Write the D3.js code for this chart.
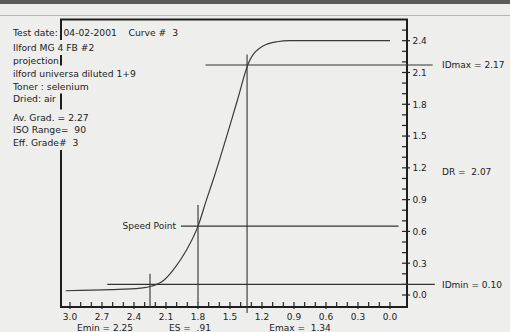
<!DOCTYPE html>
<html>
<head>
<meta charset="utf-8">
<script src="https://cdn.jsdelivr.net/npm/d3@7"></script>
<style>
  body { margin: 0; background: #eeeeec; }
  svg { display: block; }
  text { font-family: "DejaVu Sans", Verdana, sans-serif; fill: #222; }
</style>
</head>
<body>
<div id="chart"></div>
<script>
// characteristic curve (log exposure, density)
var curveLogE = [3.04, 2.62, 2.34, 2.23, 2.12, 2.03, 1.91, 1.80, 1.72, 1.66, 1.43, 1.33, 1.19, 1.06, 0.94, 0.00];
var curveDensity = [0.04, 0.05, 0.065, 0.085, 0.14, 0.24, 0.42, 0.65, 0.90, 1.08, 1.84, 2.18, 2.35, 2.39, 2.40, 2.40];

// reference lines, in data units
var hLineD = [2.17, 0.10, 0.65];          // IDmax, IDmin, speed point
var hLineFrom = [1.73, 2.65, 1.96];
var hLineTo = [-0.40, -0.42, -0.08];
var vLineE = [1.34, 2.25, 1.80];          // Emax, Emin, speed point
var vLineFrom = [2.27, 0.20, 0.85];
var vLineTo = [-0.17, -0.12, -0.07];

var yTickValues = [0.0, 0.3, 0.6, 0.9, 1.2, 1.5, 1.8, 2.1, 2.4];
var xTickValues = [3.0, 2.7, 2.4, 2.1, 1.8, 1.5, 1.2, 0.9, 0.6, 0.3, 0.0];
var minorY = d3.range(0, 26).map(d => d / 10);
var minorX = d3.range(0, 31).map(d => d / 10);

var infoLines = ["Test date:", "Ilford MG 4 FB #2", "projection", "ilford universa diluted 1+9",
  "Toner : selenium", "Dried: air", "Av. Grad. = 2.27", "ISO Range=  90", "Eff. Grade#  3"];
var infoExtra = "04-02-2001    Curve #  3";
var sideText = ["IDmax = 2.17", "DR =  2.07", "IDmin = 0.10"];
var sideD = [2.17, 1.16, 0.10];
var bottomText = ["Emin = 2.25", "ES =  .91", "Emax =  1.34"];

// layout
var W = 510, H = 332;
var frame = {left: 61, right: 407, top: 19.5, bottom: 307};
var infoBase = [36, 51, 63.5, 76.5, 89.5, 102, 120.5, 133, 146];
var bottomX = [105, 190, 300];

var svg = d3.select("#chart").append("svg")
  .attr("width", W)
  .attr("height", H);

// scan artefacts at the top of the page
svg.append("rect")
  .attr("width", W)
  .attr("height", 4)
  .attr("fill", "#5c5c5c");
svg.append("line")
  .attr("x1", 0).attr("x2", W)
  .attr("y1", 15.5).attr("y2", 15.5)
  .attr("stroke", "#b5b5b5")
  .attr("stroke-width", 1);

var x = d3.scaleLinear().domain([3.0, 0.0]).range([70, 390]);
var y = d3.scaleLinear().domain([0, 2.4]).range([295, 40.7]);

// frame
svg.append("path")
  .attr("d", `M${frame.left},${frame.bottom}V${frame.top}H${frame.right}V${frame.bottom}Z`)
  .attr("fill", "none")
  .attr("stroke", "#1e1e1e")
  .attr("stroke-width", 2);

// y ticks on the right axis
var yTicks = svg.append("g");
yTicks.selectAll("line")
  .data(minorY)
  .enter().append("line")
  .attr("x1", d => frame.right - 5)
  .attr("x2", d => frame.right + (Math.round(d * 10) % 3 === 0 ? 3 : 0))
  .attr("y1", d => y(d)).attr("y2", d => y(d))
  .attr("stroke", "#222")
  .attr("stroke-width", 1.2);
yTicks.selectAll("text")
  .data(yTickValues)
  .enter().append("text")
  .attr("x", frame.right + 5.5)
  .attr("y", d => y(d) + 3.4)
  .attr("font-size", "9px")
  .text(d3.format(".1f"));

// x ticks on the bottom axis
var xTicks = svg.append("g");
xTicks.selectAll("line")
  .data(minorX)
  .enter().append("line")
  .attr("x1", d => x(d)).attr("x2", d => x(d))
  .attr("y1", frame.bottom - 5)
  .attr("y2", d => frame.bottom + (Math.round(d * 10) % 3 === 0 ? 2 : 0))
  .attr("stroke", "#222")
  .attr("stroke-width", 1.2);
xTicks.selectAll("text")
  .data(xTickValues)
  .enter().append("text")
  .attr("x", d => x(d))
  .attr("y", frame.bottom + 12.5)
  .attr("text-anchor", "middle")
  .attr("font-size", "9px")
  .text(d3.format(".1f"));

// reference lines
svg.selectAll(".hline")
  .data(hLineD)
  .enter().append("line")
  .attr("class", "hline")
  .attr("x1", (d, i) => x(hLineFrom[i]))
  .attr("x2", (d, i) => x(hLineTo[i]))
  .attr("y1", d => y(d)).attr("y2", d => y(d))
  .attr("stroke", "#333")
  .attr("stroke-width", 1.1);
svg.selectAll(".vline")
  .data(vLineE)
  .enter().append("line")
  .attr("class", "vline")
  .attr("x1", d => x(d)).attr("x2", d => x(d))
  .attr("y1", (d, i) => y(vLineFrom[i]))
  .attr("y2", (d, i) => y(vLineTo[i]))
  .attr("stroke", "#333")
  .attr("stroke-width", 1.1);

// the curve
var curvePts = curveLogE.map((e, i) => [e, curveDensity[i]]);
svg.append("path")
  .datum(curvePts)
  .attr("d", d3.line().x(d => x(d[0])).y(d => y(d[1])).curve(d3.curveMonotoneX))
  .attr("fill", "none")
  .attr("stroke", "#3a3a3a")
  .attr("stroke-width", 1.2);

svg.append("text")
  .attr("x", x(hLineFrom[2]) - 5)
  .attr("y", y(hLineD[2]) + 3.3)
  .attr("text-anchor", "end")
  .attr("font-size", "9px")
  .text("Speed Point");

// side labels
svg.selectAll(".side")
  .data(sideText)
  .enter().append("text")
  .attr("class", "side")
  .attr("x", 442)
  .attr("y", (d, i) => y(sideD[i]) + 3.3)
  .attr("font-size", "9px")
  .style("white-space", "pre")
  .text(d => d);

// bottom labels
svg.selectAll(".bottom")
  .data(bottomText)
  .enter().append("text")
  .attr("class", "bottom")
  .attr("x", (d, i) => bottomX[i])
  .attr("y", 331)
  .attr("text-anchor", "middle")
  .attr("font-size", "9px")
  .style("white-space", "pre")
  .text(d => d);

// info text block, each line on its own field that hides the axis behind it
var info = svg.append("g");
function addField(str, tx, base) {
  var g = info.append("g");
  var bg = g.append("rect").attr("fill", "#eeeeec");
  var t = g.append("text")
    .attr("x", tx)
    .attr("y", base)
    .attr("font-size", "9.2px")
    .style("white-space", "pre")
    .text(str);
  var w = t.node().getComputedTextLength();
  bg.attr("x", tx).attr("y", base - 11).attr("width", w).attr("height", 15);
}
infoLines.forEach((s, i) => addField(s, 13, infoBase[i]));
addField(infoExtra, 63.5, infoBase[0]);
</script>
</body>
</html>
